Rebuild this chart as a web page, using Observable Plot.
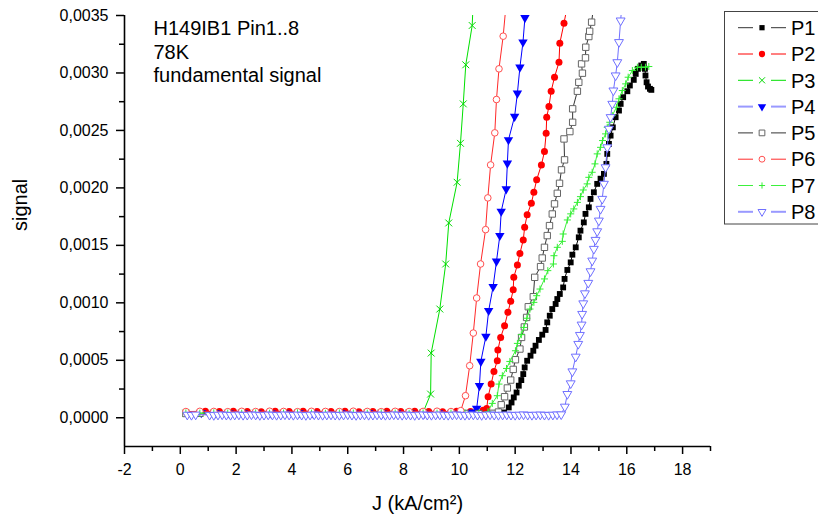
<!DOCTYPE html>
<html><head><meta charset="utf-8">
<script src="https://cdn.jsdelivr.net/npm/d3@7"></script>
<script src="https://cdn.jsdelivr.net/npm/@observablehq/plot@0.6"></script>
<style>
html,body{margin:0;padding:0;background:#fff;}
#chart{position:relative;width:818px;height:517px;overflow:hidden;font-family:"Liberation Sans",Arial,sans-serif;}
#legend{position:absolute;left:0;top:0;pointer-events:none;}
</style></head><body><div id="chart"></div>
<script>
// ---------- data ----------
const seriesNames = ["P1","P2","P3","P4","P5","P6","P7","P8"];
const annotationLines = ["H149IB1 Pin1..8","78K","fundamental signal"];
const xLabel = "J (kA/cm²)";
const yLabel = "signal";
const xMajor = [-2,0,2,4,6,8,10,12,14,16,18];
const xMinor = [-1,1,3,5,7,9,11,13,15,17,19];
const yMajor = [0,0.0005,0.001,0.0015,0.002,0.0025,0.003,0.0035];
const yMinor = [0.00025,0.00075,0.00125,0.00175,0.00225,0.00275,0.00325];
const xMin = -2, xMax = 19, yMin = -0.00025, yMax = 0.0035;

// [J (kA/cm²), signal]
const P1 = [[0.2,4.1e-5],[0.7,3.9e-5],[1.2,4.2e-5],[1.7,4.0e-5],[2.2,3.8e-5],[2.7,4.1e-5],[3.2,4.0e-5],[3.7,4.3e-5],[4.2,3.9e-5],[4.7,4.0e-5],[5.2,4.2e-5],[5.7,3.8e-5],[6.2,4.1e-5],[6.7,4.0e-5],[7.2,3.9e-5],[7.7,4.2e-5],[8.2,4.0e-5],[8.7,4.1e-5],[9.2,3.8e-5],[9.7,4.0e-5],[10.2,4.2e-5],[10.7,3.9e-5],[11.2,4.1e-5],[11.6,4.6e-5],
 [11.77,0.000090],[11.87,0.000133],[11.95,0.000177],[12.05,0.000220],[12.13,0.000279],[12.22,0.000328],[12.29,0.000380],[12.34,0.000438],[12.43,0.000496],[12.55,0.000540],[12.65,0.000583],[12.73,0.000627],[12.85,0.000677],[12.97,0.000723],[13.09,0.000764],[13.15,0.000830],[13.24,0.000888],[13.33,0.000946],[13.45,0.000990],[13.51,0.001033],[13.60,0.001077],[13.72,0.001134],[13.77,0.001208],[13.87,0.001286],[13.99,0.001352],[14.05,0.001419],[14.17,0.001483],[14.28,0.001570],[14.34,0.001628],[14.46,0.001700],[14.52,0.001774],[14.64,0.001831],[14.70,0.001904],[14.82,0.001962],[14.94,0.002035],[15.06,0.002080],[15.18,0.002122],[15.27,0.002209],[15.30,0.002296],[15.36,0.002383],[15.42,0.002455],[15.50,0.002527],[15.60,0.002615],[15.72,0.002673],[15.78,0.002731],[15.87,0.002789],[16.02,0.002841],[16.11,0.002891],[16.25,0.002940],[16.32,0.002992],[16.40,0.003036],[16.52,0.003065],[16.61,0.003079],[16.65,0.003036],[16.67,0.002978],[16.71,0.002919],[16.76,0.002882],[16.83,0.002862],[16.88,0.002853]];
const P2 = [[0.9,5.6e-5],[1.4,5.4e-5],[1.9,5.7e-5],[2.4,5.5e-5],[2.9,5.3e-5],[3.4,5.6e-5],[3.9,5.5e-5],[4.4,5.7e-5],[4.9,5.4e-5],[5.4,5.5e-5],[5.9,5.6e-5],[6.4,5.3e-5],[6.9,5.5e-5],[7.4,5.7e-5],[7.9,5.4e-5],[8.4,5.6e-5],[8.9,5.5e-5],[9.4,5.3e-5],[9.9,5.6e-5],[10.4,5.5e-5],[10.85,6.5e-5],
 [10.98,0.000080],[11.03,0.000183],[11.14,0.000293],[11.24,0.000403],[11.36,0.000496],[11.38,0.000589],[11.48,0.000699],[11.62,0.000801],[11.74,0.000917],[11.84,0.001013],[11.93,0.001114],[11.95,0.001222],[12.08,0.001330],[12.17,0.001430],[12.29,0.001547],[12.34,0.001657],[12.43,0.001767],[12.58,0.001866],[12.67,0.001962],[12.77,0.002070],[12.94,0.002200],[13.05,0.002316],[13.11,0.002475],[13.13,0.002615],[13.21,0.002708],[13.29,0.002841],[13.41,0.002963],[13.57,0.003093],[13.60,0.003259],[13.75,0.003433],[13.85,0.003560]];
const P3 = [[0.2,4.0e-5],[0.7,3.8e-5],[1.2,4.1e-5],[1.7,3.9e-5],[2.2,4.2e-5],[2.7,4.0e-5],[3.2,3.8e-5],[3.7,4.1e-5],[4.2,4.0e-5],[4.7,3.9e-5],[5.2,4.2e-5],[5.7,4.0e-5],[6.2,3.8e-5],[6.7,4.1e-5],[7.2,4.0e-5],[7.7,3.9e-5],[8.2,4.1e-5],[8.7,4.6e-5],
 [8.97,0.000206],[8.99,0.000563],[9.30,0.000946],[9.51,0.001338],[9.62,0.001695],[9.92,0.002049],[10.04,0.002388],[10.14,0.002731],[10.23,0.003071],[10.46,0.003413],[10.52,0.003760]];
const P4 = [[0.75,4.3e-5],[1.25,4.1e-5],[1.75,3.9e-5],[2.25,4.2e-5],[2.75,4.0e-5],[3.25,4.1e-5],[3.75,3.9e-5],[4.25,4.2e-5],[4.75,4.0e-5],[5.25,3.8e-5],[5.75,4.1e-5],[6.25,4.0e-5],[6.75,4.2e-5],[7.25,3.9e-5],[7.75,4.1e-5],[8.25,4.0e-5],[8.75,3.8e-5],[9.25,4.1e-5],[9.75,4.0e-5],[10.25,4.2e-5],[10.5,4.8e-5],
 [10.62,0.000081],[10.72,0.000279],[10.77,0.000490],[10.95,0.000708],[11.05,0.000932],[11.21,0.001141],[11.33,0.001361],[11.45,0.001585],[11.50,0.001796],[11.68,0.001991],[11.72,0.002214],[11.76,0.002418],[11.98,0.002621],[12.08,0.002824],[12.17,0.003050],[12.28,0.003268],[12.35,0.003480],[12.43,0.003700]];
const P5 = [[0.2,3.7e-5],[0.7,3.9e-5],[1.2,3.6e-5],[1.7,3.8e-5],[2.2,4.0e-5],[2.7,3.7e-5],[3.2,3.9e-5],[3.7,3.6e-5],[4.2,3.8e-5],[4.7,4.0e-5],[5.2,3.7e-5],[5.7,3.9e-5],[6.2,3.8e-5],[6.7,3.6e-5],[7.2,3.9e-5],[7.7,3.7e-5],[8.2,3.8e-5],[8.7,4.0e-5],[9.2,3.7e-5],[9.7,3.9e-5],[10.2,3.8e-5],[10.7,3.6e-5],[11.2,3.9e-5],[11.4,5.0e-5],
 [11.50,0.000113],[11.62,0.000183],[11.72,0.000259],[11.84,0.000328],[11.93,0.000421],[12.01,0.000505],[12.17,0.000598],[12.23,0.000699],[12.33,0.000790],[12.41,0.000873],[12.47,0.000966],[12.65,0.001053],[12.70,0.001222],[12.91,0.001315],[12.97,0.001390],[13.05,0.001483],[13.15,0.001585],[13.23,0.001672],[13.33,0.001773],[13.41,0.001861],[13.51,0.001953],[13.59,0.002040],[13.66,0.002157],[13.77,0.002244],[13.75,0.002426],[13.96,0.002490],[14.06,0.002571],[14.06,0.002688],[14.23,0.002841],[14.28,0.002919],[14.41,0.002998],[14.38,0.003079],[14.52,0.003132],[14.53,0.003224],[14.64,0.003317],[14.67,0.003363],[14.74,0.003442],[14.80,0.003560]];
const P6 = [[0.2,5.4e-5],[0.7,5.6e-5],[1.2,5.5e-5],[1.7,5.3e-5],[2.2,5.6e-5],[2.7,5.4e-5],[3.2,5.7e-5],[3.7,5.5e-5],[4.2,5.3e-5],[4.7,5.6e-5],[5.2,5.5e-5],[5.7,5.4e-5],[6.2,5.7e-5],[6.7,5.5e-5],[7.2,5.3e-5],[7.7,5.6e-5],[8.2,5.4e-5],[8.7,5.5e-5],[9.2,5.7e-5],[9.7,5.4e-5],[10.05,6.2e-5],
 [10.22,0.000192],[10.37,0.000453],[10.50,0.000737],[10.62,0.001042],[10.76,0.001338],[10.94,0.001637],[11.02,0.001913],[11.12,0.002200],[11.27,0.002479],[11.33,0.002769],[11.42,0.003036],[11.57,0.003320],[11.68,0.003610]];
const P7 = [[0.2,4.2e-5],[0.7,4.0e-5],[1.2,4.3e-5],[1.7,4.1e-5],[2.2,3.9e-5],[2.7,4.2e-5],[3.2,4.0e-5],[3.7,4.1e-5],[4.2,4.3e-5],[4.7,4.0e-5],[5.2,3.9e-5],[5.7,4.2e-5],[6.2,4.1e-5],[6.7,4.0e-5],[7.2,4.3e-5],[7.7,4.1e-5],[8.2,3.9e-5],[8.7,4.2e-5],[9.2,4.0e-5],[9.7,4.1e-5],[10.2,4.3e-5],[10.7,4.2e-5],[11.02,5.2e-5],
 [11.18,0.000125],[11.36,0.000192],[11.42,0.000293],[11.54,0.000366],[11.69,0.000429],[11.81,0.000490],[12.01,0.000583],[12.08,0.000647],[12.22,0.000723],[12.31,0.000786],[12.42,0.000866],[12.53,0.000946],[12.67,0.001004],[12.77,0.001062],[12.89,0.001120],[13.05,0.001208],[13.17,0.001280],[13.37,0.001338],[13.39,0.001410],[13.51,0.001483],[13.69,0.001535],[13.72,0.001599],[13.87,0.001721],[13.99,0.001774],[14.10,0.001817],[14.23,0.001874],[14.34,0.001924],[14.44,0.001982],[14.58,0.002035],[14.64,0.002092],[14.76,0.002136],[14.86,0.002209],[14.94,0.002296],[15.06,0.002353],[15.13,0.002412],[15.24,0.002470],[15.30,0.002527],[15.39,0.002571],[15.48,0.002629],[15.63,0.002702],[15.72,0.002775],[15.84,0.002847],[15.96,0.002905],[16.05,0.002963],[16.20,0.003021],[16.38,0.003050],[16.52,0.003050],[16.67,0.003050],[16.79,0.003056]];
const P8 = [[0.25,2.6e-5],[0.4,2.4e-5],[0.55,2.7e-5],[1.05,2.5e-5],[1.2,2.3e-5],[1.35,2.6e-5],[1.5,2.8e-5],[1.65,2.5e-5],[1.8,2.4e-5],[1.95,2.6e-5],[2.1,2.7e-5],[2.25,2.4e-5],[2.4,2.5e-5],[2.55,2.8e-5],[2.7,2.6e-5],[2.85,2.3e-5],[3.0,2.5e-5],[3.15,2.7e-5],[3.3,2.6e-5],[3.45,2.4e-5],[3.6,2.5e-5],[3.75,2.8e-5],[3.9,2.6e-5],[4.05,2.4e-5],[4.2,2.7e-5],[4.35,2.5e-5],[4.5,2.3e-5],[4.65,2.6e-5],[4.8,2.8e-5],[4.95,2.5e-5],[5.1,2.4e-5],[5.25,2.6e-5],[5.4,2.7e-5],[5.55,2.5e-5],[5.7,2.4e-5],[5.85,2.6e-5],[6.0,2.8e-5],[6.15,2.5e-5],[6.3,2.3e-5],[6.45,2.6e-5],[6.6,2.7e-5],[6.75,2.4e-5],[6.9,2.5e-5],[7.05,2.7e-5],[7.2,2.6e-5],[7.35,2.4e-5],[7.5,2.5e-5],[7.65,2.8e-5],[7.8,2.6e-5],[7.95,2.4e-5],[8.1,2.7e-5],[8.25,2.5e-5],[8.4,2.3e-5],[8.55,2.6e-5],[8.7,2.8e-5],[8.85,2.5e-5],[9.0,2.4e-5],[9.15,2.6e-5],[9.3,2.7e-5],[9.45,2.5e-5],[9.6,2.4e-5],[9.75,2.6e-5],[9.9,2.8e-5],[10.05,2.5e-5],[10.2,2.4e-5],[10.35,2.6e-5],[10.5,2.7e-5],[10.65,2.5e-5],[10.8,2.3e-5],[10.95,2.6e-5],[11.1,2.8e-5],[11.25,2.5e-5],[11.4,2.4e-5],[11.55,2.6e-5],[11.7,2.7e-5],[11.85,2.5e-5],[12.0,2.4e-5],[12.15,2.6e-5],[12.3,2.8e-5],[12.45,2.5e-5],[12.6,2.4e-5],[12.75,2.6e-5],[12.9,2.7e-5],[13.05,2.5e-5],[13.2,2.4e-5],[13.35,2.6e-5],[13.5,2.8e-5],[13.65,2.9e-5],
 [13.78,0.000096],[13.87,0.000206],[13.99,0.000299],[14.05,0.000403],[14.17,0.000531],[14.26,0.000642],[14.32,0.000720],[14.38,0.000810],[14.40,0.000903],[14.44,0.000995],[14.50,0.001082],[14.62,0.001173],[14.70,0.001274],[14.76,0.001367],[14.82,0.001469],[14.88,0.001547],[14.94,0.001622],[15.00,0.001715],[15.06,0.001817],[15.12,0.001904],[15.18,0.002035],[15.24,0.002179],[15.30,0.002353],[15.36,0.002514],[15.42,0.002615],[15.48,0.002731],[15.52,0.002847],[15.60,0.002978],[15.66,0.003093],[15.72,0.003268],[15.78,0.003456],[15.86,0.003700]];
const seriesData = [P1,P2,P3,P4,P5,P6,P7,P8];

// ---------- styles ----------
const styles = {
  P1:{line:"#000000", symbol:"square",   r:3.3, fill:"#000000", stroke:"none",    rotate:0,   legendLine:"#333333", lw:1},
  P2:{line:"#ff0000", symbol:"circle",   r:3.5, fill:"#ff0000", stroke:"none",    rotate:0,   legendLine:"#ff0000", lw:1},
  P3:{line:"#00e000", symbol:"times",    r:3.2, fill:"none",    stroke:"#00d800", rotate:0,   legendLine:"#00e000", lw:1},
  P4:{line:"#0000ff", symbol:"triangle", r:3.5, fill:"#0000ff", stroke:"none",    rotate:180, legendLine:"#9999ff", lw:2},
  P5:{line:"#333333", symbol:"square",   r:3.6, fill:"white",   stroke:"#666666", rotate:0,   legendLine:"#333333", lw:1},
  P6:{line:"#ff2a2a", symbol:"circle",   r:3.3, fill:"white",   stroke:"#ff5050", rotate:0,   legendLine:"#ff2a2a", lw:1},
  P7:{line:"#3cf03c", symbol:"plus",     r:2.4, fill:"none",    stroke:"#33ee33", rotate:0,   legendLine:"#3cf03c", lw:1},
  P8:{line:"#7070ff", symbol:"triangle", r:3.3, fill:"white",   stroke:"#7070ff", rotate:180, legendLine:"#9999ff", lw:2}
};

const rows = seriesNames.flatMap((name, i) => seriesData[i].map(([J, s]) => ({series: name, J, s})));

const fmtY = d3.formatLocale({decimal: ",", thousands: ".", grouping: [3], currency: ["", ""]}).format(".4f");

const seriesMarks = seriesNames.flatMap(name => {
  const st = styles[name];
  const d = rows.filter(r => r.series === name);
  return [
    Plot.line(d, {x: "J", y: "s", stroke: st.line, strokeWidth: 1, clip: true}),
    Plot.dot(d, {x: "J", y: "s", symbol: st.symbol, r: st.r, fill: st.fill, stroke: st.stroke, strokeWidth: 1, rotate: st.rotate, clip: true})
  ];
});

const chart = Plot.plot({
  width: 818, height: 517,
  marginLeft: 124, marginRight: 108, marginTop: 15, marginBottom: 71,
  x: {domain: [xMin, xMax], label: null},
  y: {domain: [yMin, yMax], label: null},
  style: {fontFamily: '"Liberation Sans", Arial, sans-serif', fontSize: "16px", background: "white", color: "black"},
  marks: [
    ...seriesMarks,
    Plot.ruleX([xMin], {y1: yMin, y2: yMax, stroke: "black", strokeWidth: 1.6}),
    Plot.ruleY([yMin], {x1: xMin, x2: xMax, stroke: "black", strokeWidth: 1.6}),
    Plot.axisX({ticks: xMajor, tickSize: 8, tickPadding: 9, tickFormat: d => String(d), fontSize: 16, strokeWidth: 1.5, label: null}),
    Plot.axisX({ticks: xMinor, tickSize: 5, tickFormat: () => "", strokeWidth: 1.5, label: null}),
    Plot.axisY({ticks: yMajor, tickSize: 8, tickPadding: 8, tickFormat: fmtY, fontSize: 16, strokeWidth: 1.5, label: null}),
    Plot.axisY({ticks: yMinor, tickSize: 5, tickFormat: () => "", strokeWidth: 1.5, label: null}),
    Plot.text([xLabel], {frameAnchor: "bottom", dy: 57, lineAnchor: "middle", text: d => d, fontSize: 20}),
    Plot.text([yLabel], {frameAnchor: "left", dx: -104, rotate: -90, lineAnchor: "middle", text: d => d, fontSize: 20}),
    Plot.text([annotationLines.join("\n")], {frameAnchor: "top-left", textAnchor: "start", lineAnchor: "top", dx: 29, dy: 3, lineHeight: 1.17, text: d => d, fontSize: 20})
  ]
});
document.getElementById("chart").appendChild(chart);

// ---------- legend ----------
const symbolTypes = {square: d3.symbolSquare, circle: d3.symbolCircle, times: d3.symbolTimes, plus: d3.symbolPlus, triangle: d3.symbolTriangle};
const lg = d3.select("#chart").append("svg").attr("id", "legend").attr("width", 818).attr("height", 517);
lg.append("rect").attr("x", 724.5).attr("y", 11.5).attr("width", 120).attr("height", 212.5)
  .attr("fill", "white").attr("stroke", "#444").attr("stroke-width", 1);
seriesNames.forEach((name, i) => {
  const st = styles[name];
  const y = 27.7 + i * 26.3;
  const g = lg.append("g");
  g.append("line").attr("x1", 738).attr("x2", 753).attr("y1", y).attr("y2", y).attr("stroke", st.legendLine).attr("stroke-width", st.lw);
  g.append("line").attr("x1", 771).attr("x2", 786).attr("y1", y).attr("y2", y).attr("stroke", st.legendLine).attr("stroke-width", st.lw);
  g.append("path").attr("d", d3.symbol(symbolTypes[st.symbol], Math.PI * st.r * st.r * 0.8)())
    .attr("transform", `translate(762,${y}) rotate(${st.rotate})`)
    .attr("fill", st.fill).attr("stroke", st.stroke).attr("stroke-width", 1);
  g.append("text").attr("x", 791).attr("y", y).attr("dy", "0.36em").attr("font-size", 20)
    .attr("font-family", '"Liberation Sans", Arial, sans-serif').attr("fill", "black").text(name);
});
</script></body></html>
